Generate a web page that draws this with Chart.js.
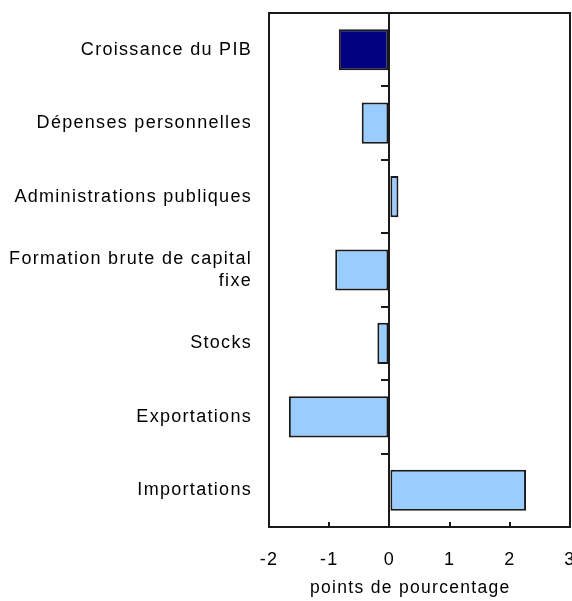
<!DOCTYPE html>
<html>
<head>
<meta charset="utf-8">
<script src="https://cdn.jsdelivr.net/npm/chart.js@4.4.0/dist/chart.umd.min.js"></script>
<style>
    html, body { margin: 0; padding: 0; background: #fff; }
    #wrap { width: 572px; height: 601px; }
</style>
</head>
<body>
<div id="wrap"><canvas id="contrib-chart" width="572" height="601"></canvas></div>
<script>
// Contributions to GDP growth, percentage points
const categories = [
    'Croissance du PIB',
    'Dépenses personnelles',
    'Administrations publiques',
    ['Formation brute de capital', 'fixe'],
    'Stocks',
    'Exportations',
    'Importations'
];
const contributions = [-0.84, -0.46, 0.15, -0.90, -0.20, -1.67, 2.27];
const xTicks = [-2, -1, 0, 1, 2, 3];
const axisTitle = 'points de pourcentage';

const FONT = "'Liberation Sans', Arial, sans-serif";
const INK = '#000';
const LINE = '#1a1a1a';

// old-style wide text, and the box round the plot
const framePlugin = {
    id: 'frame',
    beforeDraw(chart) {
        chart.ctx.letterSpacing = '1.3px';
    },
    afterDraw(chart) {
        const a = chart.chartArea;
        const ctx = chart.ctx;
        ctx.save();
        ctx.strokeStyle = LINE;
        ctx.lineWidth = 2;
        ctx.strokeRect(a.left, a.top, a.right - a.left, a.bottom - a.top);
        ctx.restore();
    }
};

const ctx = document.getElementById('contrib-chart').getContext('2d');
new Chart(ctx, {
    type: 'bar',
    data: {
        labels: categories,
        datasets: [{
            data: contributions,
            backgroundColor: c => c.dataIndex === 0 ? '#000080' : '#99ccff',
            borderColor: LINE,
            borderWidth: 2,
            borderSkipped: false,
            barPercentage: 0.56,
            categoryPercentage: 1
        }]
    },
    options: {
        indexAxis: 'y',
        responsive: false,
        animation: false,
        layout: { padding: { top: 13, right: 2, left: 0, bottom: 0 } },
        plugins: {
            legend: { display: false },
            tooltip: { enabled: false }
        },
        scales: {
            x: {
                type: 'linear',
                min: xTicks[0],
                max: xTicks[xTicks.length - 1],
                afterBuildTicks: s => { s.ticks = xTicks.map(v => ({ value: v })); },
                afterFit: s => { s.height = 74; s.paddingLeft = 0; s.paddingRight = 0; },
                grid: { drawOnChartArea: false, tickLength: -5, color: LINE, lineWidth: 2 },
                border: { display: false },
                ticks: { padding: 27, color: INK, font: { family: FONT, size: 18 } },
                title: {
                    display: true,
                    // trailing spaces pull the centred title a little to the left, as in the original
                    text: axisTitle + '\u00a0\u00a0\u00a0',
                    color: INK,
                    font: { family: FONT, size: 17.5 },
                    padding: { top: 0, bottom: 2 }
                }
            },
            y: {
                type: 'category',
                offset: true,
                afterFit: s => { s.width = 269; s.paddingTop = 0; s.paddingBottom = 0; },
                grid: { display: false, drawTicks: false },
                border: { display: false },
                ticks: { padding: 17, color: INK, font: { family: FONT, size: 18 } }
            },
            // zero line with small ticks between categories
            zero: {
                type: 'category',
                axis: 'y',
                position: { x: 0 },
                offset: true,
                grid: { offset: true, drawOnChartArea: false, tickLength: 7, color: LINE, lineWidth: 2 },
                border: { display: true, color: LINE, width: 2 },
                ticks: { display: false }
            }
        }
    },
    plugins: [framePlugin]
});
</script>
</body>
</html>
